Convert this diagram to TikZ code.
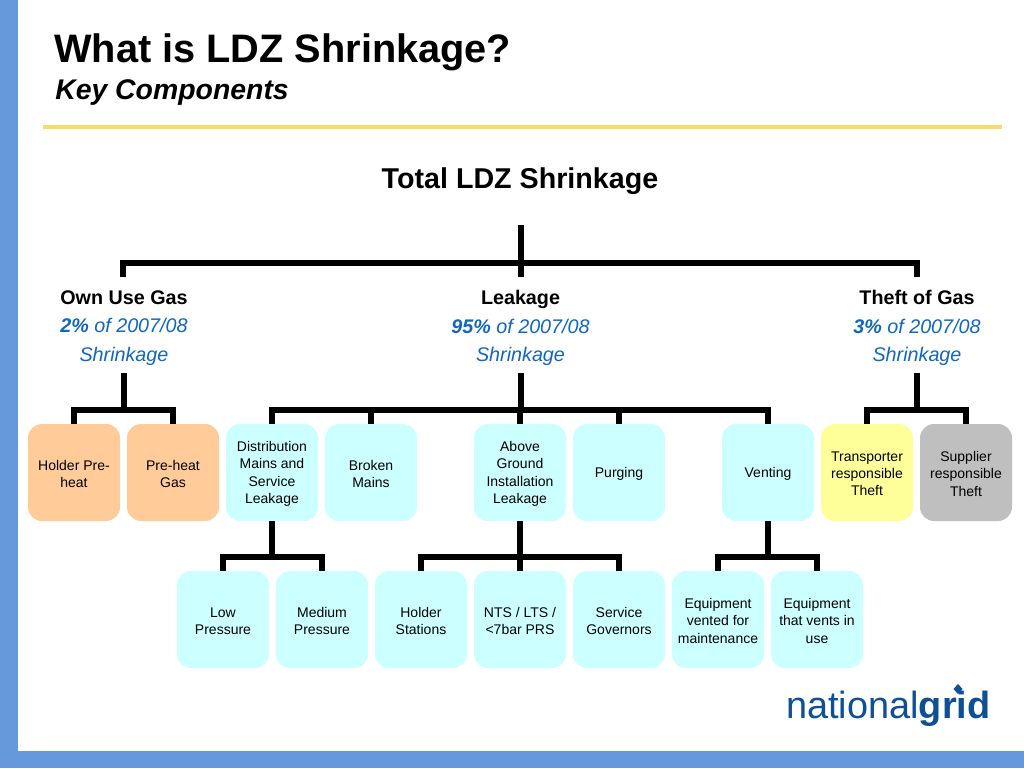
\documentclass[tikz,border=0pt]{standalone}
\usepackage{fontspec}
\setmainfont{Liberation Sans}
\definecolor{band}{HTML}{6699DB}
\definecolor{rulecol}{HTML}{FFD966}
\definecolor{pct}{HTML}{1166C0}
\definecolor{cyanbox}{HTML}{CCFFFF}
\definecolor{orangebox}{HTML}{FFCC99}
\definecolor{yellowbox}{HTML}{FFFF99}
\definecolor{greybox}{HTML}{BFBFBF}
\definecolor{logo}{HTML}{0F4F96}
\tikzset{
 px/.style={x=0.75pt,y=-0.75pt},
 box/.style={rounded corners=10.5pt,minimum width=69pt,minimum height=72.75pt,inner sep=0pt,font=\fontsize{10.5pt}{12.9pt}\selectfont,text=black},
 cy/.style={box,fill=cyanbox},
 og/.style={box,fill=orangebox},
 tree/.style={line width=4.5pt,black,line cap=butt,line join=miter},
 head/.style={align=center,font=\fontsize{14.8pt}{21.5pt}\selectfont,inner sep=0pt},
}
\newcommand{\hd}[3]{{\bfseries #1}\\{\color{pct}\itshape{\bfseries #2} of 2007/08}\\{\color{pct}\itshape Shrinkage}}
\newcommand{\bl}[1]{\raisebox{-1.1pt}[\height][\depth]{\parbox{66pt}{\centering #1}}}
\begin{document}
\begin{tikzpicture}[px]
\useasboundingbox (0,0) rectangle (1024,768);
\fill[white] (0,0) rectangle (1024,768);
\fill[band] (0,0) rectangle (18,768);
\fill[band] (0,751) rectangle (1024,768);
\fill[rulecol] (43,124.5) rectangle (1002,129);
\node[anchor=base west,inner sep=0pt,font=\fontsize{29.8pt}{30pt}\selectfont\bfseries] (title) at (54,62.5) {What is LDZ Shrinkage?};
\node[anchor=base west,inner sep=0pt,font=\fontsize{21.3pt}{24pt}\selectfont\bfseries\itshape] (sub) at (55,99) {Key Components};
\node[inner sep=0pt,font=\fontsize{21.5pt}{24pt}\selectfont\bfseries,anchor=base] (total) at (520,188) {Total LDZ Shrinkage};
\node[head,anchor=north] (own) at (124,290) {\hd{Own Use Gas}{2\%}{}};
\node[head,anchor=north] (leak) at (520.5,290) {\hd{Leakage}{95\%}{}};
\node[head,anchor=north] (theft) at (917,290) {\hd{Theft of Gas}{3\%}{}};
% row 1
\node[og] (a1) at (74,472.5) {\bl{Holder Pre-\\heat}};
\node[og] (a2) at (173,472.5) {\bl{Pre-heat\\Gas}};
\node[cy] (b1) at (272,472.5) {\bl{Distribution\\Mains and\\Service\\Leakage}};
\node[cy] (b2) at (371,472.5) {\bl{Broken\\Mains}};
\node[cy] (b3) at (520,472.5) {\bl{Above\\Ground\\Installation\\Leakage}};
\node[cy] (b4) at (619,472.5) {\bl{Purging}};
\node[cy] (b5) at (768,472.5) {\bl{Venting}};
\node[box,fill=yellowbox] (c1) at (867,472.5) {\bl{Transporter\\responsible\\Theft}};
\node[box,fill=greybox] (c2) at (966,472.5) {\bl{Supplier\\responsible\\Theft}};
% row 2
\node[cy] (d1) at (223,619.5) {\bl{Low\\Pressure}};
\node[cy] (d2) at (322,619.5) {\bl{Medium\\Pressure}};
\node[cy] (e1) at (421,619.5) {\bl{Holder\\Stations}};
\node[cy] (e2) at (520,619.5) {\bl{NTS / LTS /\\<7bar PRS}};
\node[cy] (e3) at (619,619.5) {\bl{Service\\Governors}};
\node[cy] (f1) at (718,619.5) {\bl{Equipment\\vented for\\maintenance}};
\node[cy] (f2) at (817,619.5) {\bl{Equipment\\that vents in\\use}};
% tree
\coordinate (t0) at (520.5,225);
\coordinate (t1) at (520.5,277);
\coordinate (tl) at (123,277);
\coordinate (tr) at (917,277);
\draw[tree] (t0) -- (t1);
\draw[tree] (tl) |- (520,263) -| (tr);
\coordinate (o0) at (123.5,373);
\coordinate (l0) at (520.5,373);
\coordinate (h0) at (916.5,373);
\draw[tree] (o0) -- (123.5,410);
\draw[tree] (a1.north) |- (123,410) -| (a2.north);
\draw[tree] (l0) -- (520.5,410);
\draw[tree] (b1.north) |- (520,410) -| (b5.north);
\draw[tree] (b2.north) -- (371,410);
\draw[tree] (b3.north) -- (520,410);
\draw[tree] (b4.north) -- (619,410);
\draw[tree] (h0) -- (916.5,410);
\draw[tree] (c1.north) |- (916,410) -| (c2.north);
\draw[tree] (b1.south) -- (272,557);
\draw[tree] (d1.north) |- (272,557) -| (d2.north);
\draw[tree] (b3.south) -- (520,557);
\draw[tree] (e1.north) |- (520,557) -| (e3.north);
\draw[tree] (e2.north) -- (520,557);
\draw[tree] (b5.south) -- (768,557);
\draw[tree] (f1.north) |- (768,557) -| (f2.north);
% logo
\node[anchor=base west,inner sep=0pt,text=logo,font=\fontsize{28.4pt}{30pt}\selectfont] (nat) at (786,718.5) {national\textbf{grid}};
\fill[logo] (958,684) -- (962.5,689) -- (958,694) -- (953.5,689) -- cycle;
\end{tikzpicture}
\end{document}
